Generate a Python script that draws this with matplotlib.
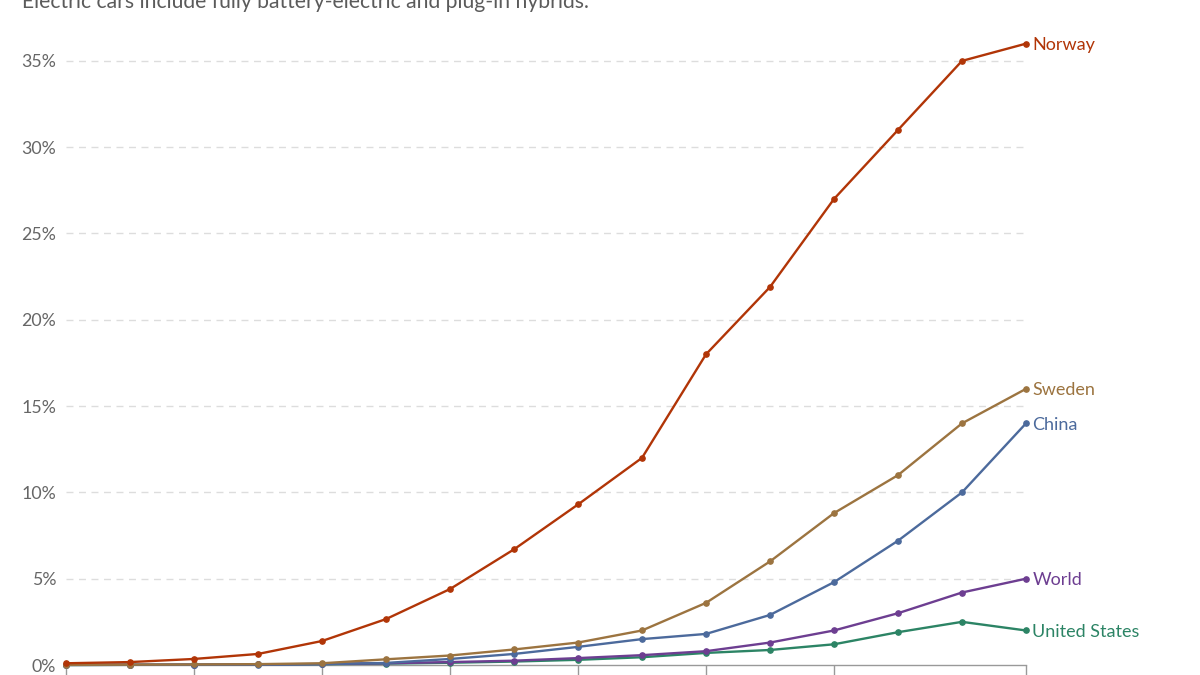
import matplotlib
matplotlib.use("Agg")
import matplotlib.pyplot as plt
import numpy as np

plt.rcParams["font.family"] = ["Lato", "DejaVu Sans"]

# share of electric cars in the car fleet, percent
years = list(range(2010, 2026))
norway = [0.1, 0.17, 0.35, 0.64, 1.39, 2.66, 4.4, 6.7, 9.3, 12.0, 18.0, 21.9, 27.0, 31.0, 35.0, 36.0]
sweden = [0.01, 0.02, 0.03, 0.05, 0.1, 0.33, 0.55, 0.9, 1.3, 2.0, 3.6, 6.0, 8.8, 11.0, 14.0, 16.0]
china = [0.0, 0.01, 0.01, 0.02, 0.05, 0.12, 0.35, 0.64, 1.05, 1.5, 1.8, 2.9, 4.8, 7.2, 10.0, 14.0]
world = [0.01, 0.01, 0.02, 0.03, 0.06, 0.1, 0.17, 0.25, 0.4, 0.57, 0.8, 1.3, 2.0, 3.0, 4.2, 5.0]
usa = [0.0, 0.01, 0.02, 0.03, 0.05, 0.08, 0.13, 0.2, 0.3, 0.45, 0.7, 0.87, 1.2, 1.9, 2.5, 2.0]

series = [
    ("Norway", norway, "#B13507"),
    ("Sweden", sweden, "#9C7440"),
    ("China", china, "#4C6A9C"),
    ("World", world, "#6D3E91"),
    ("United States", usa, "#2C8465"),
]

yticks = [0, 5, 10, 15, 20, 25, 30, 35]
xticks = [2010, 2012, 2014, 2016, 2018, 2020, 2022, 2025]

W, H = 1200, 675
fig = plt.figure(figsize=(12, 6.75), dpi=100)
px = 17.26  # pixels per percent
ymax = 36.3
ax = fig.add_axes([66 / W, 10 / H, 960 / W, ymax * px / H])

# grid (dashed) for non-zero ticks
for yv in yticks[1:]:
    ax.axhline(yv, color="#dddddd", lw=1, ls=(0, (5, 4)), zorder=0)

# draw US first so World sits on top of it, Norway last
for name, vals, col in reversed(series):
    ax.plot(years, vals, color=col, lw=1.7, marker="o", ms=3.8,
            clip_on=False, zorder=3, solid_joinstyle="round")
for name, vals, col in series:
    ax.text(years[-1] + 0.1, vals[-1], name, color=col, fontsize=13,
            va="center_baseline", ha="left")

ax.set_xlim(years[0], years[-1])
ax.set_ylim(0, ymax)
ax.set_yticks(yticks)
ax.set_yticklabels([f"{v}%" for v in yticks], fontsize=12.8, color="#666666")
ax.tick_params(axis="y", length=0, pad=7)
ax.set_xticks(xticks)
ax.set_xticklabels([])
ax.tick_params(axis="x", length=10, width=1, color="#999999", direction="out")

for s in ["top", "right", "left"]:
    ax.spines[s].set_visible(False)
ax.spines["bottom"].set_color("#999999")
ax.spines["bottom"].set_linewidth(1)
ax.spines["bottom"].set_zorder(1)
ax.set_facecolor("none")

fig.text(22 / W, 1 - 8 / H, "Electric cars include fully battery-electric and plug-in hybrids.",
         fontsize=15.2, color="#5b5b5b", ha="left", va="baseline")

fig.savefig("out.png", dpi=100, facecolor="white")
